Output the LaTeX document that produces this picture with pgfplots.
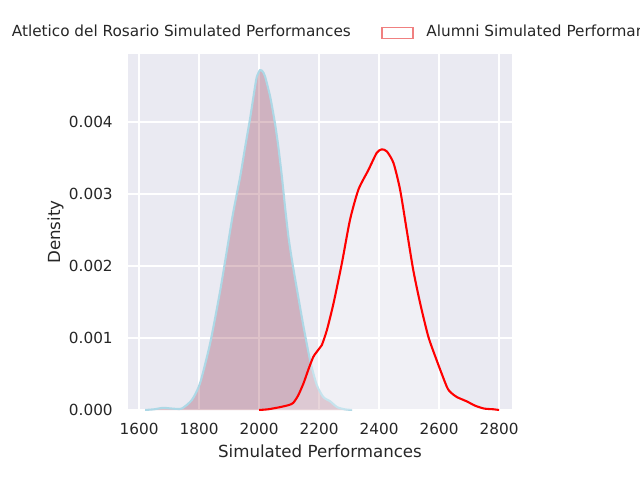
\documentclass[border=0pt]{standalone}
\usepackage{fontspec}
\setmainfont{DejaVu Sans}
\usepackage{pgfplots}
\usepackage{pgfplotstable}
\pgfplotsset{compat=1.18}
\definecolor{bg}{HTML}{EAEAF2}
\definecolor{txt}{HTML}{262626}
\definecolor{lblue}{HTML}{ADD8E6}
\definecolor{mfill}{RGB}{130,20,50}
\definecolor{lcoral}{HTML}{F08080}
\pgfplotstableread{
x y
1620 0
1650 0.00001
1680 0.00003
1710 0.00002
1742 0.00002
1776 0.00014
1803 0.00037
1837 0.00093
1870 0.00165
1896 0.00230
1914 0.00275
1937 0.00324
1953 0.00364
1970 0.00405
1983 0.00440
1992 0.00462
2003 0.00472
2012 0.00470
2020 0.00463
2037 0.00435
2053 0.00398
2064 0.00366
2076 0.00324
2087 0.00280
2098 0.00240
2110 0.00207
2126 0.00168
2148 0.00116
2170 0.00069
2192 0.00035
2214 0.00018
2237 0.00012
2260 0.00004
2285 0.00001
2310 0
}\atletico
\pgfplotstableread{
x y
2000 0
2030 0.00001
2070 0.00004
2100 0.00007
2114 0.00010
2130 0.00020
2148 0.00037
2165 0.00057
2181 0.00074
2200 0.00085
2209 0.00090
2226 0.00111
2248 0.00148
2276 0.00204
2303 0.00264
2331 0.00306
2364 0.00333
2392 0.00357
2409 0.00362
2426 0.00359
2448 0.00343
2470 0.00306
2492 0.00250
2514 0.00194
2537 0.00148
2564 0.00102
2592 0.00069
2626 0.00032
2640 0.00024
2659 0.00018
2692 0.00012
2720 0.00006
2750 0.00002
2781 0.00001
2800 0
}\alumni
\begin{document}
\begin{tikzpicture}
\useasboundingbox (-92.16pt,-50.4pt) rectangle (368.64pt,295.2pt);
\clip (-92.16pt,-50.4pt) rectangle (368.64pt,295.2pt);
\begin{axis}[
  at={(0,0)}, anchor=south west,
  scale only axis, width=276.48pt, height=256.32pt,
  xmin=1563, xmax=2843, ymin=0, ymax=0.004944,
  axis background/.style={fill=bg},
  axis line style={draw=none},
  major tick length=0pt,
  grid=major, major grid style={white, line width=1pt},
  xtick={1600,1800,2000,2200,2400,2600,2800},
  ytick={0,0.001,0.002,0.003,0.004},
  scaled y ticks=false,
  /pgf/number format/assume math mode=true,
  x tick label style={/pgf/number format/1000 sep={}},
  y tick label style={/pgf/number format/fixed, /pgf/number format/fixed zerofill, /pgf/number format/precision=3},
  tick label style={font=\fontsize{11}{13}\selectfont, text=txt, inner sep=0pt},
  xticklabel style={anchor=north, yshift=-9.4pt},
  yticklabel style={anchor=east, xshift=-10.8pt},
  xlabel={Simulated Performances},
  ylabel={Density},
  xlabel style={at={(axis description cs:0.5,-0.1348)}, anchor=base, inner sep=0pt, font=\fontsize{12}{14}\selectfont, text=txt},
  ylabel style={at={(axis description cs:-0.1766,0.5)}, anchor=base, inner sep=0pt, font=\fontsize{12}{14}\selectfont, text=txt},
  legend columns=2,
  legend style={at={(axis description cs:-0.4197,1.0627)}, anchor=west, draw=none, fill=none,
    font=\fontsize{11}{13}\selectfont, text=txt, inner sep=0pt, outer sep=0pt,
    nodes={inner sep=0pt},
    /tikz/every odd column/.append style={column sep=9.4pt},
    /tikz/every even column/.append style={column sep=22pt}},
  legend cell align=left,
]
\addplot[draw=none, fill=mfill, fill opacity=0.26, smooth, tension=0.4, forget plot] table[x=x,y=y]{\atletico};
\addplot[lblue, line width=1.5pt, smooth, tension=0.4, forget plot] table[x=x,y=y]{\atletico};
\addplot[draw=none, fill=white, fill opacity=0.3, smooth, tension=0.4, forget plot] table[x=x,y=y]{\alumni};
\addplot[red, line width=1.5pt, smooth, tension=0.4, forget plot] table[x=x,y=y]{\alumni};
\addlegendimage{legend image code/.code={\fill[lblue] (-0.5pt,-5.1pt) rectangle (22.1pt,3.3pt); \fill[mfill!30!bg] (0.5pt,-4.1pt) rectangle (21.1pt,2.3pt);}}
\addlegendentry{Atletico del Rosario Simulated Performances}
\addlegendimage{legend image code/.code={\fill[lcoral] (-0.5pt,-5.1pt) rectangle (22.1pt,3.3pt); \fill[white] (0.5pt,-4.1pt) rectangle (21.1pt,2.3pt);}}
\addlegendentry{Alumni Simulated Performances}
\end{axis}
\end{tikzpicture}
\end{document}
